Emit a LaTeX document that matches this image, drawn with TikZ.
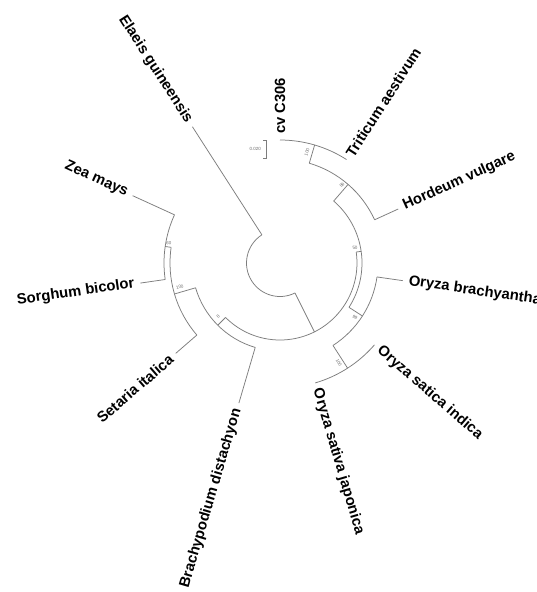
\documentclass[tikz,border=0pt]{standalone}
\usepackage{fontspec}
\setmainfont{Liberation Sans}
\definecolor{linegray}{RGB}{125,125,125}
\definecolor{bootgray}{RGB}{110,110,110}
\begin{document}
\begin{tikzpicture}[x=1pt,y=1pt,
  br/.style={draw=linegray,line width=0.75pt},
  taxonR/.style={font=\fontsize{14.8}{16}\selectfont\bfseries,inner sep=0pt,anchor=west},
  taxonL/.style={font=\fontsize{14.8}{16}\selectfont\bfseries,inner sep=0pt,anchor=east},
  boot/.style={font=\fontsize{4.5}{5}\selectfont,text=bootgray,inner sep=0pt}]
\useasboundingbox (0,0) rectangle (537,-592);
\fill[white] (0,0) rectangle (537,-592);
\begin{scope}[shift={(280,-263)}]
 % root
 \coordinate (rE) at (122.73:33.5);
 \coordinate (rI) at (296.59:33.5);
 \coordinate (tE) at (122.73:162);
 \coordinate (nI) at (296.59:77);
 \draw[br] (rE) arc[start angle=122.73,end angle=296.59,radius=33.5];
 \draw[br] (rE) -- (tE);
 \draw[br] (rI) -- (nI);
 % node I
 \coordinate (i8) at (225:77);
 \coordinate (i50) at (368.18:77);
 \coordinate (n8) at (225:88);
 \coordinate (n50) at (8.18:82);
 \draw[br] (i8) arc[start angle=225,end angle=368.18,radius=77];
 \draw[br] (i8) -- (n8);
 \draw[br] (i50) -- (n50);
 % node 8
 \coordinate (e8b) at (196.36:88);
 \coordinate (e8B) at (253.64:88);
 \coordinate (n100b) at (196.36:110);
 \coordinate (tB) at (253.64:146);
 \draw[br] (e8b) arc[start angle=196.36,end angle=253.64,radius=88];
 \draw[br] (e8b) -- (n100b);
 \draw[br] (e8B) -- (tB);
 % node 100b
 \coordinate (e100bZ) at (171.82:110);
 \coordinate (e100bS) at (220.91:110);
 \coordinate (n60) at (171.82:116);
 \coordinate (tS) at (220.91:138);
 \draw[br] (e100bZ) arc[start angle=171.82,end angle=220.91,radius=110];
 \draw[br] (e100bZ) -- (n60);
 \draw[br] (e100bS) -- (tS);
 % node 60
 \coordinate (e60Z) at (155.45:116);
 \coordinate (e60So) at (188.18:116);
 \coordinate (tZ) at (155.45:162);
 \coordinate (tSo) at (188.18:141);
 \draw[br] (e60Z) arc[start angle=155.45,end angle=188.18,radius=116];
 \draw[br] (e60Z) -- (tZ);
 \draw[br] (e60So) -- (tSo);
 % node 50
 \coordinate (e50a) at (-32.73:82);
 \coordinate (e50b) at (49.09:82);
 \coordinate (n99) at (-32.73:98);
 \coordinate (n86) at (49.09:104);
 \draw[br] (e50a) arc[start angle=-32.73,end angle=49.09,radius=82];
 \draw[br] (e50a) -- (n99);
 \draw[br] (e50b) -- (n86);
 % node 86
 \coordinate (e86H) at (24.55:104);
 \coordinate (e86a) at (73.64:104);
 \coordinate (n100a) at (73.64:123);
 \coordinate (tH) at (24.55:130);
 \draw[br] (e86H) arc[start angle=24.55,end angle=73.64,radius=104];
 \draw[br] (e86a) -- (n100a);
 \draw[br] (e86H) -- (tH);
 % node 100a
 \coordinate (tT) at (57.27:123);
 \coordinate (tC) at (90:123);
 \draw[br] (tT) arc[start angle=57.27,end angle=90,radius=123];
 % node 99
 \coordinate (e99c) at (-57.27:98);
 \coordinate (e99O) at (-8.18:98);
 \coordinate (n100c) at (-57.27:125);
 \coordinate (tOB) at (-8.18:124);
 \draw[br] (e99c) arc[start angle=-57.27,end angle=-8.18,radius=98];
 \draw[br] (e99c) -- (n100c);
 \draw[br] (e99O) -- (tOB);
 % node 100c
 \coordinate (tOJ) at (-73.64:125);
 \coordinate (tOI) at (-40.91:125);
 \draw[br] (tOJ) arc[start angle=-73.64,end angle=-40.91,radius=125];
 % taxon labels
 \node[taxonL,rotate=-57.27] (lE) at (122.73:168) {Elaeis guineensis};
 \node[taxonR,rotate=90] (lC) at (90:129) {cv C306};
 \node[taxonR,rotate=57.27] (lT) at (57.27:128) {Triticum aestivum};
 \node[taxonR,rotate=24.55] (lH) at (24.55:136) {Hordeum vulgare};
 \node[taxonR,rotate=-8.18] (lOB) at (-8.18:130) {Oryza brachyantha};
 \node[taxonR,rotate=-40.91] (lOI) at (-40.91:131) {Oryza satica indica};
 \node[taxonR,rotate=-73.64] (lOJ) at (-73.64:131) {Oryza sativa japonica};
 \node[taxonL,rotate=73.64] (lB) at (253.64:152) {Brachypodium distachyon};
 \node[taxonL,rotate=40.91] (lS) at (220.91:144) {Setaria italica};
 \node[taxonL,rotate=8.18] (lSo) at (188.18:147) {Sorghum bicolor};
 \node[taxonL,rotate=-24.55] (lZ) at (155.45:168) {Zea mays};
 % bootstrap values
 \node[boot,rotate=73.64] (b100a) at (76.3:114) {100};
 \node[boot,rotate=49.09] (b86) at (51.5:99.6) {86};
 \node[boot,rotate=8.18] (b50) at (11.3:76.5) {50};
 \node[boot,rotate=-32.73] (b99) at (-35.8:92.4) {99};
 \node[boot,rotate=-57.27] (b100c) at (-59.5:116) {100};
 \node[boot,rotate=-8.18] (b60) at (169.8:113) {60};
 \node[boot,rotate=16.36] (b100b) at (193.5:103) {100};
 \node[boot,rotate=45] (b8) at (221:82) {8};
\end{scope}
% scale bar
\draw[br] (263,-140) -- (266,-140) -- (266,-158) -- (263,-158);
\node[boot,anchor=east] (scale) at (261,-149) {0.020};
\end{tikzpicture}
\end{document}
